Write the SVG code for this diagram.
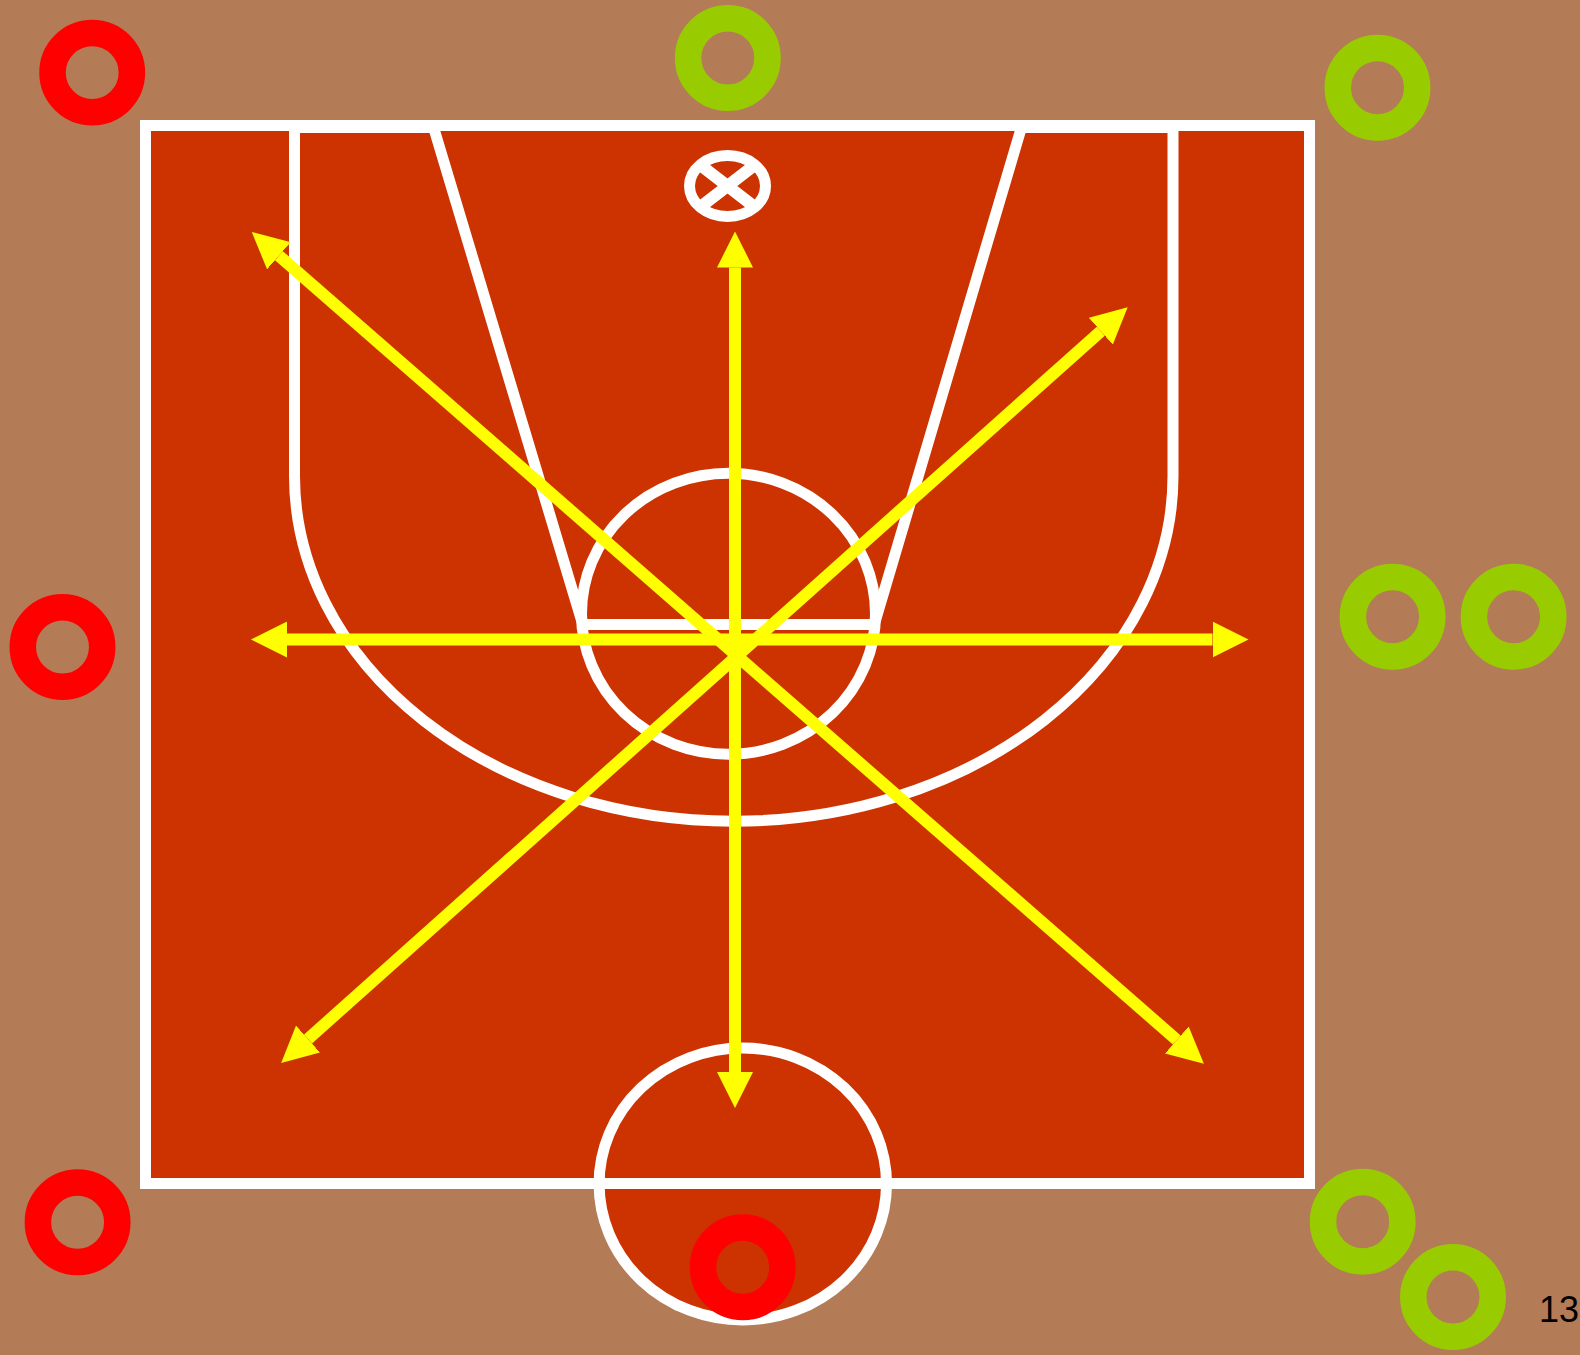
<svg xmlns="http://www.w3.org/2000/svg" width="1580" height="1355" viewBox="0 0 1580 1355">
<style>
.line{fill:none;stroke:#fff;stroke-width:11}
.court{fill:#c30;stroke:#fff;stroke-width:11}
.ring{fill:none;stroke-width:26.5}
.red{stroke:#f00}
.green{stroke:#9c0}
.arrow{fill:none;stroke:#ff0;stroke-width:12;marker-start:url(#head);marker-end:url(#head)}
text{font-family:"Liberation Sans",Arial,sans-serif;font-size:36px;fill:#000}
</style>
<defs>
<marker id="head" viewBox="0 0 3 3" refX="0" refY="1.5" markerWidth="3" markerHeight="3" orient="auto-start-reverse" markerUnits="strokeWidth"><path d="M0,0L3,1.5L0,3Z" fill="#ff0"/></marker>
</defs>
<rect id="background" width="1580" height="1355" fill="#b37b56"/>
<g id="court">
<rect class="court" x="145.5" y="125.5" width="1164" height="1058"/>
<ellipse class="court" cx="742.8" cy="1184" rx="143.7" ry="136"/>
<path class="line" d="M594 1183.5H892"/>
<path class="line" d="M294.5 127.5V476A439 345 0 0 0 1173 476V127.5M294.5 127.5H432M1024 127.5H1173"/>
<path class="line" d="M433 125.5L582 622M1022 125.5L875 622M581 624.5H875"/>
<ellipse class="line" cx="728.5" cy="613.7" rx="147" ry="140.5"/>
</g>
<g id="hoop">
<ellipse class="line" cx="727.5" cy="186" rx="38" ry="30.5"/>
<path class="line" style="stroke-width:12" d="M699 164L756 208M756 164L699 208"/>
</g>
<g id="connectors">
<path class="arrow" d="M735 267.5V1072"/>
<path class="arrow" d="M287 639.5H1212.5"/>
<path class="arrow" d="M278.9 255.7L1176.8 1040"/>
<path class="arrow" d="M1100.8 331.2L308 1039"/>
</g>
<g id="players-red">
<circle class="ring red" cx="92.2" cy="72.6" r="39.7"/>
<circle class="ring red" cx="62.5" cy="647" r="39.7"/>
<circle class="ring red" cx="77.6" cy="1222.3" r="39.7"/>
<circle class="ring red" cx="742.7" cy="1267.3" r="39.7"/>
</g>
<g id="players-green">
<circle class="ring green" cx="727.8" cy="58" r="39.7"/>
<circle class="ring green" cx="1377.5" cy="87.7" r="39.7"/>
<circle class="ring green" cx="1392.6" cy="616.7" r="39.7"/>
<circle class="ring green" cx="1513.6" cy="616.7" r="39.7"/>
<circle class="ring green" cx="1362.7" cy="1221.7" r="39.7"/>
<circle class="ring green" cx="1453" cy="1297" r="39.7"/>
</g>
<text id="page-number" x="1539" y="1322">13</text>
</svg>
